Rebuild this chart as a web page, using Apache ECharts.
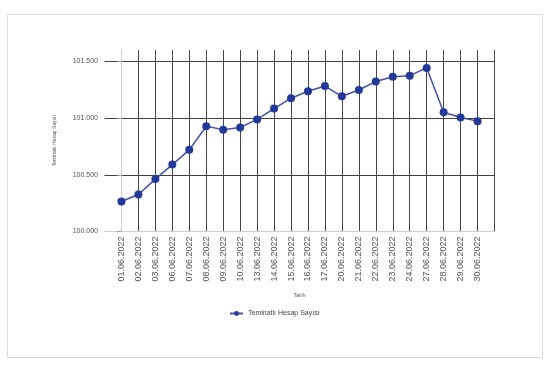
<!DOCTYPE html>
<html><head><meta charset="utf-8">
<script src="https://cdn.jsdelivr.net/npm/echarts@6/dist/echarts.min.js"></script>
<style>html,body{margin:0;padding:0;background:#fff}#c{width:546px;height:368px}</style>
</head><body><div id="c"></div>
<script>
const dates = ['01.06.2022','02.06.2022','03.06.2022','06.06.2022','07.06.2022','08.06.2022','09.06.2022','10.06.2022','13.06.2022','14.06.2022','15.06.2022','16.06.2022','17.06.2022','20.06.2022','21.06.2022','22.06.2022','23.06.2022','24.06.2022','27.06.2022','28.06.2022','29.06.2022','30.06.2022'];
const values = [100265,100326,100462,100590,100720,100928,100898,100917,100988,101084,101175,101236,101282,101192,101247,101323,101365,101374,101442,101051,101005,100973];
const yTicks = [100000,100500,101000,101500];
const seriesName = 'Teminatlı Hesap Sayısı';
const xName = 'Tarih';

const n = dates.length;
const idx = dates.map((d, i) => i);
const xMin = -1, xMax = n;
const fmt = v => Math.floor(v / 1000) + '.' + String(Math.round(v % 1000)).padStart(3, '0');

const chart = echarts.init(document.getElementById('c'), null, {renderer: 'canvas'});
chart.setOption({
  animation: false,
  backgroundColor: '#fff',
  graphic: [{
    type: 'rect', shape: {x: 7.5, y: 14.5, width: 535, height: 343},
    style: {fill: 'none', stroke: '#dcdcdc', lineWidth: 1}, silent: true
  }],
  grid: {left: 104.5, right: 51.5, top: 50, bottom: 136.5},
  legend: {
    left: 224, top: 305, itemWidth: 13, itemHeight: 6, itemGap: 4,
    textStyle: {fontFamily: 'Liberation Sans', fontSize: 7, color: '#444'},
    data: [seriesName]
  },
  xAxis: {
    type: 'value', min: xMin, max: xMax,
    name: xName, nameLocation: 'middle', nameGap: 61,
    nameTextStyle: {fontFamily: 'Liberation Sans', fontSize: 5.5, color: '#555'},
    axisLine: {show: true, lineStyle: {color: '#cfcfcf', width: 1}},
    axisTick: {show: false, customValues: idx.concat([xMax])},
    axisLabel: {
      customValues: idx, rotate: 90, margin: 5,
      fontFamily: 'Liberation Sans', fontSize: 9, color: '#555',
      formatter: v => dates[Math.round(v)] || ''
    },
    splitLine: {show: true, showMinLine: false, showMaxLine: true, lineStyle: {color: '#454545', width: 1}}
  },
  yAxis: {
    type: 'value', min: 100000, max: 101600, interval: 500,
    name: seriesName, nameLocation: 'middle', nameGap: 47, nameRotate: 90,
    nameTextStyle: {fontFamily: 'Liberation Sans', fontSize: 5, color: '#555'},
    axisLine: {show: true, lineStyle: {color: '#cfcfcf', width: 1}},
    axisTick: {show: true, length: 4, customValues: yTicks, lineStyle: {color: '#999'}},
    axisLabel: {
      customValues: yTicks, margin: 6.5,
      fontFamily: 'Liberation Sans', fontSize: 7, color: '#555',
      formatter: v => fmt(v)
    },
    splitLine: {show: true, showMinLine: false, showMaxLine: true, lineStyle: {color: '#404040', width: 1}}
  },
  series: [{
    name: seriesName, type: 'line',
    data: values.map((v, i) => [i, v]),
    symbol: 'circle', symbolSize: 8,
    itemStyle: {color: '#22399a'},
    lineStyle: {color: '#4051a6', width: 1.5}
  }]
});
</script>
</body></html>
